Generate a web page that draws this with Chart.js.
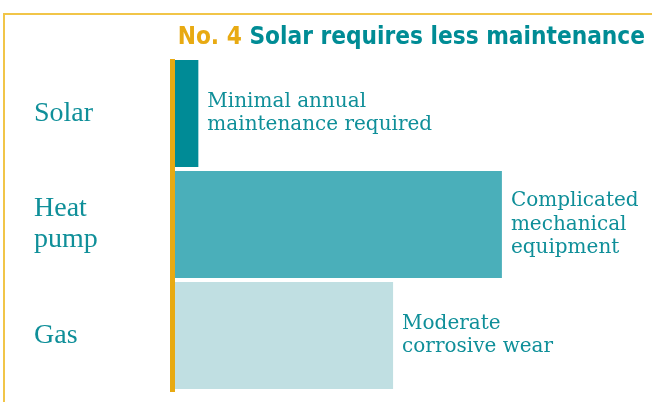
<!DOCTYPE html>
<html>
<head>
<meta charset="utf-8">
<script src="https://cdn.jsdelivr.net/npm/chart.js@4"></script>
<style>
  html, body { margin: 0; padding: 0; background: #fff; }
  #wrap { width: 652px; height: 402px; }
</style>
</head>
<body>
<div id="wrap"><canvas id="graph" width="652" height="402"></canvas></div>
<script>
// data (relative maintenance, 0-100)
const categories = [['Solar'], ['Heat', 'pump'], ['Gas']];
const maintenance = [5, 70, 46.7];
const barColors = ['#008b96', '#4aafba', '#c0dfe2'];
const notes = [
  ['Minimal annual', 'maintenance required'],
  ['Complicated', 'mechanical', 'equipment'],
  ['Moderate', 'corrosive wear']
];
const titleNo = 'No. 4 ';
const titleText = 'Solar requires less maintenance';

const teal = '#0f8f99';
const gold = '#e8aa12';

// frame, title, gold axis line and the notes beside each bar
const decor = {
  id: 'decor',
  beforeDraw(chart) {
    const ctx = chart.ctx;
    ctx.save();
    ctx.fillStyle = '#f1c548';
    ctx.fillRect(3, 13, chart.width - 3, 2);
    ctx.fillRect(3, 13, 2, chart.height - 13);
    ctx.textBaseline = 'alphabetic';
    ctx.textAlign = 'right';
    ctx.font = 'bold 24.2px "DejaVu Sans Condensed", "DejaVu Sans"';
    ctx.fillStyle = '#008c95';
    ctx.fillText(titleText, 645, 44);
    const w = ctx.measureText(titleText).width;
    ctx.fillStyle = gold;
    ctx.fillText(titleNo, 645 - w, 44);
    ctx.restore();
  },
  afterDatasetsDraw(chart) {
    const ctx = chart.ctx;
    const area = chart.chartArea;
    ctx.save();
    ctx.fillStyle = gold;
    ctx.fillRect(area.left - 5, area.top + 1, 5, area.bottom - area.top);
    ctx.font = '20px "DejaVu Serif"';
    ctx.fillStyle = teal;
    ctx.textAlign = 'left';
    ctx.textBaseline = 'middle';
    const meta = chart.getDatasetMeta(0);
    meta.data.forEach((bar, i) => {
      const lines = notes[i];
      const lh = 23.5;
      const y0 = bar.y - (lines.length - 1) * lh / 2;
      lines.forEach((t, j) => ctx.fillText(t, bar.x + 9, y0 + j * lh));
    });
    ctx.restore();
  }
};

new Chart(document.getElementById('graph').getContext('2d'), {
  type: 'bar',
  data: {
    labels: categories,
    datasets: [{
      data: maintenance,
      backgroundColor: barColors,
      borderWidth: 0,
      categoryPercentage: 1,
      barPercentage: 0.965
    }]
  },
  options: {
    indexAxis: 'y',
    responsive: false,
    animation: false,
    layout: { padding: { top: 58, bottom: 11, left: 34, right: 10 } },
    plugins: { legend: { display: false }, tooltip: { enabled: false } },
    scales: {
      x: { display: false, min: 0, max: 100 },
      y: {
        grid: { display: false, drawTicks: false },
        border: { display: false },
        afterFit(scale) {
          scale.width = 141;
          scale.paddingTop = 0;
          scale.paddingBottom = 0;
        },
        ticks: {
          crossAlign: 'far',
          padding: 0,
          color: teal,
          font: { family: '"Liberation Serif"', size: 28, lineHeight: 1.1 }
        }
      }
    }
  },
  plugins: [decor]
});
</script>
</body>
</html>
